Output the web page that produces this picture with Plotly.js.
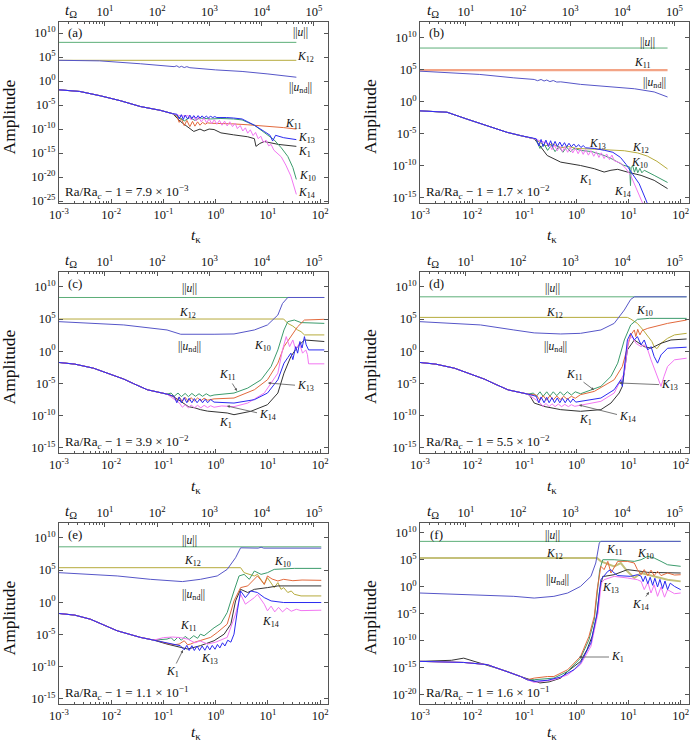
<!DOCTYPE html>
<html>
<head>
<meta charset="utf-8">
<script src="https://cdn.plot.ly/plotly-3.0.1.min.js"></script>
<style>html,body{margin:0;padding:0;background:#fff;}#chart{width:694px;height:744px;}</style>
</head>
<body>
<div id="chart"></div>
<script>
// ---------------- tick labels ----------------
const xTickVals = [1e-3, 1e-2, 1e-1, 1, 10, 100];
const xTickText = ['10<sup>-3</sup>','10<sup>-2</sup>','10<sup>-1</sup>','10<sup>0</sup>','10<sup>1</sup>','10<sup>2</sup>'];
const topTickVals = [10, 100, 1000, 1e4, 1e5];
const topTickText = ['10<sup>1</sup>','10<sup>2</sup>','10<sup>3</sup>','10<sup>4</sup>','10<sup>5</sup>'];
const yTickValsA = [1e10,1e5,1,1e-5,1e-10,1e-15,1e-20,1e-25];
const yTickTextA = ['10<sup>10</sup>','10<sup>5</sup>','10<sup>0</sup>','10<sup>-5</sup>','10<sup>-10</sup>','10<sup>-15</sup>','10<sup>-20</sup>','10<sup>-25</sup>'];
const yTickValsB = [1e10,1e5,1,1e-5,1e-10,1e-15];
const yTickTextB = ['10<sup>10</sup>','10<sup>5</sup>','10<sup>0</sup>','10<sup>-5</sup>','10<sup>-10</sup>','10<sup>-15</sup>'];
const yTickValsF = [1e10,1e5,1,1e-5,1e-10,1e-15,1e-20];
const yTickTextF = ['10<sup>10</sup>','10<sup>5</sup>','10<sup>0</sup>','10<sup>-5</sup>','10<sup>-10</sup>','10<sup>-15</sup>','10<sup>-20</sup>'];
const panelTags = ['(a)','(b)','(c)','(d)','(e)','(f)'];
const raTexts = ['7.9 × 10<sup>−3</sup>','1.7 × 10<sup>−2</sup>','3.9 × 10<sup>−2</sup>','5.5 × 10<sup>−2</sup>','1.1 × 10<sup>−1</sup>','1.6 × 10<sup>−1</sup>'];

// ---------------- panel (a) ----------------
const aU_t=[0.001,35]; const aU_v=[1.15e8,1.15e8];
const aK12_t=[0.001,35]; const aK12_v=[2.1e4,2.1e4];
const aUnd_t=[0.001,0.006,0.036,0.12,0.16,0.18,0.2,0.22,0.25,0.28,0.32,1,3.2,10,35];
const aUnd_v=[2.1e4,1.6e4,4e3,1.1e3,1e3,1.5e3,700,1.2e3,650,1e3,600,210,100,30,6.3];
const aEarly_t=[0.001,0.0025,0.0062,0.015,0.036,0.087,0.15];
const aEarly_v=[1.5e-2,6.8e-3,8.5e-4,8e-5,5e-6,8e-7,1.6e-7];
const aK1_t=[0.21,0.38,0.5,0.6,0.75,0.93,1.26,2.2,4.1,5.5,5.9,7,8.5,16,35];
const aK1_v=[4e-9,3.2e-11,1e-10,4e-11,1e-10,8e-11,1.6e-11,6.3e-12,2.5e-12,1e-12,2.5e-14,1e-13,2.5e-13,6.3e-14,2.5e-14];
const aK11_t=[0.18,0.2,0.22,0.25,0.28,0.32,0.36,0.4,0.45,0.5,0.56,0.63,0.7,0.8,1,2,4,10,20,35];
const aK11_v=[5e-8,2.5e-9,1.6e-8,5e-10,6.3e-9,3.2e-10,4e-9,4e-10,3.2e-9,6.3e-10,2.5e-9,1e-9,2e-9,1.6e-9,1.6e-9,1.25e-9,8e-10,4e-10,2e-10,1e-10];
const aK10_t=[0.18,0.25,0.32,0.4,0.5,0.8,1.26,2.2,3.2,5.5,8.5,13,18,24,30,35];
const aK10_v=[6.3e-8,5e-9,2.5e-8,6.3e-9,2e-8,1.26e-8,1.6e-8,1.26e-8,8e-9,6.3e-10,1.6e-11,6.3e-13,1.26e-14,2e-16,1e-18,3.2e-21];
const aK13_t=[0.18,0.2,0.22,0.24,0.26,0.29,0.32,0.35,0.38,0.42,0.46,0.5,0.55,0.6,0.66,0.72,0.8,0.88,0.96,1.05,1.3,1.6,2.2,3.2,4.1,5.5,8.5,11,12.3,14,20,35];
const aK13_v=[1.26e-7,1.26e-8,1e-7,1e-8,8e-8,1.26e-8,8e-8,1.6e-8,6.3e-8,1.6e-8,6.3e-8,2e-8,5.6e-8,2e-8,5e-8,2.2e-8,4.5e-8,2.5e-8,4e-8,2.5e-8,2.8e-8,2.5e-8,2e-8,1.26e-8,3.2e-9,6.3e-10,3.2e-11,5e-12,3.2e-13,5e-12,1.6e-12,6.3e-13];
const aK14_t=[0.22,0.3,0.34,0.38,0.42,0.47,0.53,0.6,0.67,0.75,0.84,0.94,1.05,1.18,1.32,1.48,1.66,1.86,2.1,2.35,2.6,2.95,3.3,3.7,4.1,4.6,5.2,5.8,6.5,7.3,8.2,9.2,10.3,11.5,13,18,22,27.5,35];
const aK14_v=[5e-8,6.3e-8,8e-9,4e-8,5e-9,3.2e-8,3.2e-9,2e-8,2e-9,1.26e-8,1.26e-9,9e-9,1e-9,6.3e-9,6.3e-10,4.5e-9,4.5e-10,3.2e-9,3.2e-10,1.6e-9,1.26e-10,5.6e-10,4e-11,1.8e-10,1.4e-11,7e-11,4.5e-12,2e-11,1e-12,3.2e-12,1.6e-13,5e-13,3.2e-14,6.3e-14,4e-15,1.6e-16,3.2e-18,1.6e-20,2.5e-24];

// ---------------- panel (b) ----------------
const bU_t=[0.001,56]; const bU_v=[2.2e8,2.2e8];
const bK11_t=[0.001,56]; const bK11_v=[8e4,8e4];
const bUnd_t=[0.001,0.014,0.063,0.155,0.18,0.21,0.24,0.27,0.31,0.36,0.42,0.5,1.2,13,31,56];
const bUnd_v=[5.5e4,1.7e4,5e3,2.8e3,1.8e3,2.8e3,1.6e3,2.3e3,1.3e3,1.9e3,1.1e3,1.2e3,480,100,32,5.2];
const bEarly_t=[0.001,0.0033,0.0079,0.0195,0.047,0.085,0.155];
const bEarly_v=[3.6e-2,2.2e-2,1.9e-3,1.7e-4,1.6e-5,5e-6,1.6e-6];
const bK1_t=[0.2,0.275,0.5,1.2,2.2,3.4,4.6,6.2,9.5,17.4,31,56];
const bK1_v=[1.26e-7,4e-9,3.7e-10,1.1e-10,3.5e-11,1.05e-11,2e-11,2.8e-11,1.05e-11,3.2e-12,5.4e-13,2.75e-14];
const bK13_t=[0.17,0.19,0.21,0.23,0.26,0.29,0.32,0.35,0.39,0.43,0.48,0.53,0.59,0.65,0.72,0.8,0.89,0.99,1.1,1.22,1.35,1.5,2.2,3.5,5,7,9,11.7,16,22,26];
const bK13_v=[1.6e-6,1.26e-7,1.26e-6,1e-7,1e-6,1e-7,8e-7,1e-7,6.3e-7,1e-7,5e-7,1e-7,4e-7,9e-8,3.2e-7,9e-8,2.5e-7,8e-8,2e-7,7e-8,1.4e-7,6.3e-8,5e-8,2.5e-8,1.26e-8,2e-9,1.6e-10,6.3e-12,1.6e-13,3.2e-16,1e-17];
const bK12_t=[0.17,0.25,0.35,0.5,0.7,1,2,5,8.3,15,23,35,56];
const bK12_v=[1e-6,1.26e-7,2.5e-7,6.3e-8,1e-7,5e-8,4e-8,2.8e-8,2.2e-8,1e-8,3.2e-9,5e-10,3.2e-11];
const bK10_t=[0.17,0.2,0.24,0.28,0.33,0.39,0.46,0.55,0.65,0.77,0.9,1.2,2,3.4,5,7.9,10.5,10.9,11.2,12,13,14,15,16.5,18,20,31,56];
const bK10_v=[1e-6,5e-8,2.5e-7,2.5e-8,1.6e-7,1.6e-8,1e-7,1.26e-8,8e-8,1.6e-8,5e-8,2.5e-8,1.6e-8,4e-9,1e-9,1.26e-10,6.3e-11,8e-14,5e-11,1e-10,1e-11,6.3e-11,8e-12,4e-11,8e-12,2e-11,3.2e-12,2.5e-13];
const bK14_t=[0.3,0.34,0.38,0.43,0.48,0.54,0.6,0.68,0.76,0.85,0.96,1.08,1.2,1.35,1.5,1.7,1.9,2.15,2.4,2.7,3.0,3.4,3.8,4.3,4.8,5.3,7.1,9,11,13,14.8,19];
const bK14_v=[2.5e-7,3.2e-8,1.6e-7,2.2e-8,1.15e-7,1.6e-8,9e-8,1.26e-8,7e-8,1e-8,5.5e-8,7.6e-9,4.3e-8,6e-9,3.3e-8,4.5e-9,2.3e-8,3e-9,1.55e-8,2e-9,1.05e-8,1.35e-9,6.9e-9,9.1e-10,4.7e-9,6.3e-10,2.5e-10,3.2e-11,3.2e-12,1.6e-13,8.5e-15,1e-16];

// ---------------- panel (c) ----------------
const cU_t=[0.001,120]; const cU_v=[2.2e8,2.2e8];
const cK12_t=[0.001,20,24,30,37,43,50,120]; const cK12_v=[1e5,1e5,2.1e4,8e3,2e3,1.1e3,340,340];
const cUnd_t=[0.001,0.0174,0.117,0.214,0.93,2.24,5.5,9.8,15.5,19,24,120];
const cUnd_v=[3.9e4,1.2e4,2e3,430,430,480,2e3,1.2e4,4.2e5,2.6e7,2.2e8,2.2e8];
const cEarly_t=[0.001,0.002,0.0046,0.0174,0.027,0.049,0.117];
const cEarly_v=[1.8e-2,1e-2,2.3e-3,4.7e-5,9e-6,1.05e-6,2.2e-7];
const cK10_t=[0.14,0.16,0.19,0.22,0.26,0.3,0.35,0.41,0.48,0.56,0.66,0.78,0.93,2.24,4.1,7.4,11.5,15.5,17.8,20.3,24,32,43,120];
const cK10_v=[3.2e-7,1e-7,3.2e-7,9e-8,2.8e-7,9e-8,2.8e-7,1e-7,2.5e-7,1e-7,2.5e-7,1.1e-7,1.6e-7,3.2e-7,1.9e-6,3.7e-5,4.3e-3,1.6,63,2e3,3.9e4,7e4,2.8e4,2.1e4];
const cK11_t=[0.16,0.18,0.2,0.23,0.26,0.3,0.34,0.39,0.45,0.52,0.6,0.7,0.93,2.24,5.5,9.8,15.5,20.3,27.5,37,50,120];
const cK11_v=[1e-7,2e-8,8e-8,1.6e-8,7e-8,1.6e-8,6.3e-8,1.8e-8,5.6e-8,2e-8,5e-8,2.5e-8,4e-8,5.4e-8,1.05e-6,3.7e-5,1.4e-2,5.2,186,6.3e3,7e4,9e4];
const cK13_t=[0.16,0.18,0.2,0.22,0.25,0.28,0.31,0.35,0.39,0.44,0.5,0.56,0.63,0.7,0.8,0.93,2.24,5.5,9.8,15.5,20.3,24,27.5,30,34,37,41,45,50,54,60,120];
const cK13_v=[1e-7,1e-8,8e-8,1e-8,6.3e-8,1e-8,5e-8,1e-8,4.5e-8,1e-8,4e-8,1e-8,3.5e-8,1e-8,3.2e-8,1.26e-8,9e-9,3e-8,3.2e-7,3.7e-5,1.4e-2,0.1,0.5,5e-2,5.2,0.5,32,3.2,186,10,1.6,1.6];
const cK14_t=[0.2,0.23,0.26,0.3,0.34,0.39,0.45,0.52,0.6,0.7,0.8,0.93,1.3,2.24,4.1,8.5,15.5,19,22.4,26,30,34,40,46,53,57,60,120];
const cK14_v=[1e-8,2e-9,5e-9,1.6e-9,4.5e-9,1.6e-9,4e-9,1.6e-9,4e-9,1.8e-9,3.5e-9,2e-9,3.2e-9,2.5e-9,9e-9,3.2e-7,4e-4,1.6,186,5.2,56,1.6,17,0.5,1.6,0.32,1.1e-2,1.1e-2];
const cK1_t=[0.15,0.214,0.3,0.4,0.51,0.7,1.0,1.66,2.24,4.7,9.8,15.5,20.3,27.5,37,50,120];
const cK1_v=[1e-7,1.66e-8,2.5e-9,1.6e-9,8.5e-10,5e-10,4e-10,2.6e-10,1.4e-10,4.7e-10,5e-9,3.2e-7,4e-4,0.15,5.2,56,32];

// ---------------- panel (d) ----------------
const dU_t=[0.001,130]; const dU_v=[2.8e8,2.8e8];
const dK12_t=[0.001,9.5,11,14.8,19,23.4,28,31,35,42,56,76,130];
const dK12_v=[1.8e5,1.8e5,1e5,2.1e4,2e3,186,32,5.2,2.5,17,100,340,600];
const dUnd_t=[0.001,0.0145,0.063,0.155,0.5,1.2,2.95,5.3,8.3,11,13,130];
const dUnd_v=[3.9e4,1.2e4,2e3,700,480,600,2e3,2.1e4,2.5e6,1.1e8,2.8e8,2.8e8];
const dEarly_t=[0.001,0.002,0.0046,0.0174,0.027,0.049,0.117];
const dEarly_v=[1.8e-2,1e-2,2.3e-3,4.5e-5,8.5e-6,1e-6,2.2e-7];
const dK10_t=[0.15,0.17,0.2,0.23,0.27,0.31,0.36,0.42,0.49,0.57,0.67,0.8,0.95,1.2,1.6,2.95,4.6,6.2,8.3,11,14.8,25,130];
const dK10_v=[3.2e-7,1e-7,5e-7,1e-7,5e-7,1.1e-7,5e-7,1.26e-7,5e-7,1.4e-7,5e-7,1.6e-7,5e-7,2.5e-7,5.8e-7,3.5e-6,1.26e-4,1.4e-2,56,1.2e4,9e4,1.26e5,1.26e5];
const dK11_t=[0.17,0.2,0.23,0.27,0.31,0.36,0.42,0.49,0.57,0.67,0.8,0.95,1.2,2.2,5.3,7.6,9.5,11,12.9,13.8,15,16.5,18.2,23.4,56,130];
const dK11_v=[1.6e-7,2.5e-8,1.26e-7,2.5e-8,1.26e-7,2.8e-8,1.1e-7,3.2e-8,1e-7,3.5e-8,1e-7,5e-8,1.8e-7,5.8e-7,3.7e-5,4.3e-3,5.2,340,2e3,186,2.5e3,340,1.6e3,3.6e3,2.1e4,7e4];
const dK13_t=[0.17,0.19,0.21,0.24,0.27,0.3,0.34,0.38,0.43,0.48,0.54,0.61,0.68,0.77,0.86,0.97,1.2,2.95,5.3,7.1,7.6,9.5,11,12.9,14.8,17.4,20,23.4,27,31,36,42,56,130];
const dK13_v=[1e-7,1e-8,8e-8,1e-8,7e-8,1e-8,6.3e-8,1e-8,5.6e-8,1e-8,5e-8,1e-8,4.5e-8,1.1e-8,4e-8,1.26e-8,1.66e-8,5.4e-8,1.05e-6,3.7e-5,3.5e-6,56,600,56,186,10,56,1.6,5.2,0.15,1.4e-2,0.27,2.9,4.2];
const dK14_t=[0.2,0.23,0.26,0.3,0.34,0.39,0.45,0.52,0.6,0.7,0.8,0.93,1.2,2.95,5.3,8.3,10,11.7,14,17.4,20,23.4,27,34,38,42,48,56,76,130];
const dK14_v=[1e-8,2.5e-9,8e-9,2.5e-9,7e-9,2.5e-9,6.3e-9,2.5e-9,5.6e-9,2.5e-9,5e-9,2.8e-9,4e-9,1.66e-8,3.2e-7,4e-4,56,186,16,5.2,10,1.6,4.6e-2,4e-4,3.2e-5,3.5e-6,1.26e-4,4.3e-3,4.6e-2,8.3e-2];
const dK1_t=[0.13,0.155,0.25,0.5,1.2,2.95,4.6,6.6,7.6,9.5,12.9,20,27,42,65,130];
const dK1_v=[1e-7,9e-9,2.5e-9,8.5e-10,4.7e-10,8.5e-10,9e-9,3.2e-7,3.5e-6,1.6,56,5.2,2.9,17,56,80];

// ---------------- panel (e) ----------------
const eU_t=[0.001,105]; const eU_v=[4e8,4e8];
const eK12_t=[0.001,3,3.5,5.5,6.3,8.5,9.8,13.2,15.5,17.8,20,24,28,32,43,105];
const eK12_v=[2.3e5,2.3e5,3.9e4,1.2e4,2.1e4,600,6.3e3,186,1.1e3,100,186,32,56,17,9.5,9.5];
const eUnd_t=[0.001,0.013,0.056,0.23,0.51,1.07,1.66,2.4,3.0,6.5,7.4,8.3,105];
const eUnd_v=[3.9e4,1.2e4,3.6e3,1.6e3,3.6e3,1.2e4,1.26e5,8e6,2.8e8,2.5e8,3.5e8,2.5e8,2.5e8];
const eEarly_t=[0.001,0.002,0.004,0.013,0.036,0.065];
const eEarly_v=[1.8e-2,1e-2,2.3e-3,3.7e-5,3.5e-6,1.3e-6];
const eK10_t=[0.117,0.14,0.16,0.19,0.22,0.26,0.31,0.38,0.45,0.51,0.6,0.93,1.25,1.66,2.24,2.8,3.5,4.4,5.5,7.4,9.8,13.2,32,105];
const eK10_v=[1.9e-6,3.2e-6,1e-6,4e-6,1.26e-6,5e-6,1.6e-6,6.3e-6,2.5e-6,1.1e-5,6.3e-6,1.07e-4,5e-4,2.5e-2,56,1.2e4,2.1e4,3.6e3,7e4,2.1e4,3.9e4,1.26e5,1.8e5,1.8e5];
const eK11_t=[0.08,0.117,0.16,0.2,0.25,0.29,0.33,0.4,0.51,0.8,1.07,1.66,2.24,3.0,4.1,5.0,6.3,7.4,8.5,9.8,12,15.5,20,30,45,105];
const eK11_v=[1e-6,4e-7,2.5e-7,3.2e-7,1.05e-6,2.5e-7,3.2e-7,6.3e-7,1.05e-6,3.5e-6,2e-5,4e-4,1.6,186,340,1.6e3,1.2e4,2.5e3,600,1.2e4,4e3,2e3,3.6e3,2.2e3,2.8e3,2.5e3];
const eK1_t=[0.117,0.21,0.29,0.51,0.93,1.45,1.95,2.4,3.0,4.1,5.5,9.8,15.5,105];
const eK1_v=[3.2e-7,1e-7,5.4e-8,1.8e-7,1.05e-6,1.1e-5,4e-4,1.6,100,32,100,186,340,340];
const eK13_t=[0.117,0.21,0.25,0.28,0.31,0.35,0.39,0.44,0.49,0.55,0.62,0.69,0.77,0.86,0.97,1.08,1.2,1.35,1.5,1.7,1.95,2.24,2.6,3.0,3.7,4.7,6.3,8.5,11.5,20,105];
const eK13_v=[5e-7,1.8e-7,4e-8,2e-7,3.2e-8,1.8e-7,3.2e-8,1.6e-7,3.2e-8,1.6e-7,3.5e-8,1.8e-7,4e-8,2e-7,5e-8,2.8e-7,8e-8,5e-7,1.6e-7,1.26e-6,6.3e-7,1.1e-5,4.6e-2,56,5.2,56,32,5.2,1.6,0.9,0.9];
const eK14_t=[0.1,0.15,0.21,0.29,0.4,0.5,0.7,1.0,1.66,2.4,3.0,3.7,4.5,5.5,6.3,8.5,9.8,11.5,13.5,16,19,23,28,35,43,105];
const eK14_v=[3.2e-6,4e-6,3.2e-6,1.9e-6,5e-7,1e-6,3.2e-7,6.3e-7,3.5e-6,1.4e-2,17,0.5,1.6,5.2,17,0.5,4.6e-2,0.25,3.2e-2,0.16,3.2e-2,0.126,4e-2,8e-2,5e-2,5.8e-2];

// ---------------- panel (f) ----------------
const fU_t=[0.001,100]; const fU_v=[2.8e8,2.8e8];
const fK12_t=[0.001,2.5,2.95,5.3,7.1,9.5,12.9,17.4,23.4,36,56,100];
const fK12_v=[2.3e5,2.3e5,5.5e4,6.6e3,2.7e4,780,45,380,186,70,22,10.7];
const fUnd_t=[0.001,0.0145,0.063,0.155,0.37,0.68,1.2,1.9,2.35,2.75,2.95,100];
const fUnd_v=[7.4e-2,3.6e-2,1.8e-2,8.7e-3,1.8e-2,7.4e-2,1.26,91,2.7e4,1.4e8,2.8e8,2.8e8];
const fEarly_t=[0.001,0.0069,0.0195,0.047,0.085,0.115];
const fEarly_v=[1.6e-14,1e-14,4e-15,2.2e-16,2.5e-17,6.3e-18];
const fK1_t=[0.001,0.004,0.0069,0.011,0.0195,0.047,0.085,0.155,0.2,0.3,0.5,0.68,1.2,1.6,2.0,2.45,2.8,3.2,3.4,5.3,9.5,17.4,23.4,100];
const fK1_v=[1.6e-14,2.5e-14,6.3e-14,1.6e-14,4e-15,2.2e-16,2.5e-17,3.2e-18,1.6e-18,2.5e-18,1.26e-17,2.2e-16,1.6e-14,2.5e-12,6.8e-10,3.5e-6,0.31,91,91,186,1.6e3,780,500,380];
const fK11_t=[0.155,0.28,0.37,0.68,1.2,1.74,2.2,2.5,2.75,2.95,3.4,4.0,4.6,6.2,9.5,12.9,14.8,17.4,20,23.4,27,31,36,42,56,76,100];
const fK11_v=[1.26e-17,2.5e-17,2.5e-17,4.5e-16,1.26e-13,6.8e-10,3.5e-6,0.31,380,6.6e3,1.6e3,5.5e4,380,5.5e4,5.5e4,2.7e4,1.6e3,186,1.6e3,126,1.26e3,126,800,126,380,160,186];
const fK10_t=[0.155,0.37,0.68,1.2,1.74,2.2,2.5,2.8,3.2,5.3,12.9,17.4,23.4,31,42,56,100];
const fK10_v=[6.3e-18,1.26e-17,2.2e-16,6.3e-14,1.6e-10,8e-7,7.4e-2,1.6e3,1.1e5,1.1e5,5.5e4,1.1e5,4.7e5,2.3e5,5.5e4,1.3e4,6.6e3];
const fK13_t=[0.155,0.28,0.5,0.9,1.2,1.9,2.5,2.95,4.0,4.6,5.3,6.2,11,14.8,17.4,19,21,23.4,26,29,32,36,40,45,50,56,63,76,100];
const fK13_v=[3.2e-18,5e-18,2e-17,4.5e-16,8e-15,4e-11,1.45e-5,22,780,1.6e3,380,126,91,186,100,10,100,4,63,2,40,1,25,0.5,12.6,0.32,5,1.26,0.31];
const fK14_t=[0.155,0.37,0.68,1.2,1.9,2.6,3.0,3.4,5.3,9.5,14.8,17.4,20,23.4,27,31,36,42,49,56,76,100];
const fK14_v=[2e-18,6.3e-18,5e-17,4e-15,1e-11,1.45e-5,5.2,22,91,45,22,10.7,0.32,7,7.4e-2,2.5,1.8e-2,1,1.26e-2,0.31,5.6e-2,7.4e-2];

// ---------------- styling ----------------
const FONT = 'Liberation Serif, DejaVu Serif, serif';
const C = {u:'#5cae78', k12:'#b6ab3c', und:'#5656c8', k11:'#e2693c', k13:'#2b2bf0', k1:'#333333', k10:'#3b9b6c', k14:'#f276f2'};
const W = 694, H = 744;
const boxes = [
  {x0:59, x1:328, y0:22, y1:203}, {x0:420, x1:688.5, y0:22, y1:203},
  {x0:59, x1:328, y0:272, y1:453}, {x0:420, x1:688.5, y0:272, y1:453},
  {x0:59, x1:328, y0:523, y1:704}, {x0:420, x1:688.5, y0:523, y1:704}
];
const yRanges = [[-25.4,12.3],[-15.8,12.4],[-15.8,12.3],[-15.8,12.3],[-15.8,12.3],[-21.7,11.85]];
const yTicks = [[yTickValsA,yTickTextA],[yTickValsB,yTickTextB],[yTickValsB,yTickTextB],[yTickValsB,yTickTextB],[yTickValsB,yTickTextB],[yTickValsF,yTickTextF]];

const minorBottom = [];
for (let e = -3; e <= 2; e++) for (let m = 2; m <= 9; m++) { const v = m * Math.pow(10, e); if (v < 140) minorBottom.push(v); }
const minorTop = [];
for (let e = 0; e <= 5; e++) for (let m = 2; m <= 9; m++) { const v = m * Math.pow(10, e); if (v > 1.35 && v < 1.8e5) minorTop.push(v); }

const traces = [];
function L(i, t, v, color, w) {
  const s = i === 0 ? '' : String(i + 1);
  traces.push({type:'scatter', mode:'lines', x:t, y:v, xaxis:'x'+s, yaxis:'y'+s,
    line:{color:color, width:w || 1}, hoverinfo:'skip', showlegend:false});
}
function LE(i, et, ev, t, v, color, w) { L(i, et.concat(t), ev.concat(v), color, w); }

// (a)
L(0, aU_t, aU_v, C.u); L(0, aK12_t, aK12_v, C.k12); L(0, aUnd_t, aUnd_v, C.und);
LE(0, aEarly_t, aEarly_v, aK1_t, aK1_v, C.k1); LE(0, aEarly_t, aEarly_v, aK11_t, aK11_v, C.k11);
LE(0, aEarly_t, aEarly_v, aK10_t, aK10_v, C.k10); LE(0, aEarly_t, aEarly_v, aK14_t, aK14_v, C.k14);
LE(0, aEarly_t, aEarly_v, aK13_t, aK13_v, C.k13);
// (b)
L(1, bU_t, bU_v, C.u); L(1, bK11_t, bK11_v, '#f3a486', 2.4); L(1, bUnd_t, bUnd_v, C.und);
LE(1, bEarly_t, bEarly_v, bK1_t, bK1_v, C.k1); LE(1, bEarly_t, bEarly_v, bK12_t, bK12_v, C.k12);
LE(1, bEarly_t, bEarly_v, bK10_t, bK10_v, C.k10); LE(1, bEarly_t, bEarly_v, bK14_t, bK14_v, C.k14);
LE(1, bEarly_t, bEarly_v, bK13_t, bK13_v, C.k13);
// (c)
L(2, cU_t, cU_v, C.u); L(2, cK12_t, cK12_v, C.k12); L(2, cUnd_t, cUnd_v, C.und);
LE(2, cEarly_t, cEarly_v, cK1_t, cK1_v, C.k1); LE(2, cEarly_t, cEarly_v, cK10_t, cK10_v, C.k10);
LE(2, cEarly_t, cEarly_v, cK11_t, cK11_v, C.k11); LE(2, cEarly_t, cEarly_v, cK14_t, cK14_v, C.k14);
LE(2, cEarly_t, cEarly_v, cK13_t, cK13_v, C.k13);
// (d)
L(3, dU_t, dU_v, C.u); L(3, dK12_t, dK12_v, C.k12); L(3, dUnd_t, dUnd_v, C.und);
LE(3, dEarly_t, dEarly_v, dK1_t, dK1_v, C.k1); LE(3, dEarly_t, dEarly_v, dK10_t, dK10_v, C.k10);
LE(3, dEarly_t, dEarly_v, dK11_t, dK11_v, C.k11); LE(3, dEarly_t, dEarly_v, dK14_t, dK14_v, C.k14);
LE(3, dEarly_t, dEarly_v, dK13_t, dK13_v, C.k13);
// (e)
L(4, eU_t, eU_v, C.u); L(4, eK12_t, eK12_v, C.k12); L(4, eUnd_t, eUnd_v, C.und);
LE(4, eEarly_t, eEarly_v, eK1_t, eK1_v, C.k1); LE(4, eEarly_t, eEarly_v, eK10_t, eK10_v, C.k10);
LE(4, eEarly_t, eEarly_v, eK11_t, eK11_v, C.k11); LE(4, eEarly_t, eEarly_v, eK14_t, eK14_v, C.k14);
LE(4, eEarly_t, eEarly_v, eK13_t, eK13_v, C.k13);
// (f)
L(5, fU_t, fU_v, C.u); L(5, fK12_t, fK12_v, '#c4c07a', 2); L(5, fUnd_t, fUnd_v, C.und);
L(5, fK1_t, fK1_v, C.k1); LE(5, fEarly_t, fEarly_v, fK10_t, fK10_v, C.k10);
LE(5, fEarly_t, fEarly_v, fK11_t, fK11_v, C.k11); LE(5, fEarly_t, fEarly_v, fK14_t, fK14_v, C.k14);
LE(5, fEarly_t, fEarly_v, fK13_t, fK13_v, C.k13);

const layout = {
  width: W, height: H, margin: {l:0, r:0, t:0, b:0},
  paper_bgcolor: '#fff', plot_bgcolor: '#fff', showlegend: false,
  font: {family: FONT, size: 12.5, color: '#111'},
  annotations: []
};
const AX = '#555';
for (let i = 0; i < 6; i++) {
  const s = i === 0 ? '' : String(i + 1);
  const b = boxes[i];
  layout['xaxis' + s] = {type:'log', domain:[b.x0/W, b.x1/W], range:[-3, 2.15], anchor:'y'+s,
    tickmode:'array', tickvals:xTickVals, ticktext:xTickText, ticks:'inside', ticklen:4, tickcolor:AX,
    showline:true, linecolor:AX, linewidth:1, mirror:false, showgrid:false, zeroline:false,
    tickfont:{family:FONT, size:12.5, color:'#111'},
    minor:{tickmode:'array', tickvals:minorBottom, ticks:'inside', ticklen:2, tickcolor:AX, showgrid:false}};
  layout['xaxis' + (i + 7)] = {type:'log', overlaying:'x'+s, side:'top', anchor:'y'+s, range:[0.12, 5.27],
    tickmode:'array', tickvals:topTickVals, ticktext:topTickText, ticks:'inside', ticklen:4, tickcolor:AX,
    showline:true, linecolor:AX, linewidth:1, showgrid:false, zeroline:false,
    tickfont:{family:FONT, size:12.5, color:'#111'},
    minor:{tickmode:'array', tickvals:minorTop, ticks:'inside', ticklen:2, tickcolor:AX, showgrid:false}};
  layout['yaxis' + s] = {type:'log', domain:[1 - b.y1/H, 1 - b.y0/H], range:yRanges[i], anchor:'x'+s,
    tickmode:'array', tickvals:yTicks[i][0], ticktext:yTicks[i][1], ticks:'inside', ticklen:4, tickcolor:AX,
    showline:true, linecolor:AX, linewidth:1, mirror:'ticks', showgrid:false, zeroline:false,
    tickfont:{family:FONT, size:12.5, color:'#111'}};
  traces.push({type:'scatter', mode:'lines', x:[], y:[], xaxis:'x'+(i+7), yaxis:'y'+s, hoverinfo:'skip', showlegend:false});
}

function T(x, y, text, size, opt) {
  layout.annotations.push(Object.assign({xref:'paper', yref:'paper', x:x/W, y:1 - y/H, text:text,
    showarrow:false, font:{family:FONT, size:size || 11.5, color:'#111'}, xanchor:'center', yanchor:'middle'}, opt || {}));
}
function A(tx, ty, lx, ly, text) {
  layout.annotations.push({xref:'paper', yref:'paper', x:tx/W, y:1 - ty/H, ax:lx - tx, ay:ly - ty, text:text,
    showarrow:true, arrowhead:2, arrowsize:0.7, arrowwidth:0.8, arrowcolor:'#555', standoff:0,
    font:{family:FONT, size:11.5, color:'#111'}});
}
const K = n => '<i>K</i><sub>' + n + '</sub>';
const UN = '||<i>u</i>||';
const UND = '||<i>u</i><sub>nd</sub>||';

// common titles
const rowMid = [117, 367, 618];
const rowTlab = [236, 486, 732];
const rowTop = [22, 272, 523];
for (let r = 0; r < 3; r++) {
  T(8.5, rowMid[r], 'Amplitude', 17.5, {textangle:-90});
  T(370, rowMid[r], 'Amplitude', 17.5, {textangle:-90});
  T(196, rowTlab[r], '<i>t</i><sub>κ</sub>', 15.5);
  T(552, rowTlab[r], '<i>t</i><sub>κ</sub>', 15.5);
  T(71, rowTop[r] - 11, '<i>t</i><sub>Ω</sub>', 15);
  T(433, rowTop[r] - 11, '<i>t</i><sub>Ω</sub>', 15);
}
for (let i = 0; i < 6; i++) {
  const b = boxes[i];
  T(b.x0 + 16, b.y0 + 11, panelTags[i], 13);
  T(b.x0 + 4, b.y1 - 11, 'Ra/Ra<sub><i>c</i></sub> − 1 = ' + raTexts[i], 13, {xanchor:'left'});
}
// (a) labels
T(300, 33, UN); T(305, 57, K(12)); T(300, 88, UND); T(293, 124, K(11)); T(306, 138, K(13));
T(304, 152, K(1)); T(307, 176, K(10)); T(306, 193, K(14));
// (b) labels
T(647, 43, UN); T(642, 63, K(11)); T(654, 83, UND); T(597, 144, K(13)); T(640, 148, K(12));
T(639, 163, K(10)); T(585, 180, K(1)); T(622, 192, K(14));
// (c) labels
T(190, 288, UN); T(188, 313, K(12)); T(190, 347, UND); T(262, 346, K(10)); T(225, 423, K(1));
A(237, 391, 227, 375, K(11)); A(268, 383, 305, 386, K(13)); A(227, 406, 267, 415, K(14));
// (d) labels
T(552, 288, UN); T(554, 313, K(12)); T(555, 347, UND); T(644, 311, K(10)); T(585, 420, K(1));
A(594, 390, 574, 375, K(11)); A(619, 383, 669, 385, K(13)); A(579, 405, 627, 417, K(14));
// (e) labels
T(190, 540, UN); T(192, 561, K(12)); T(282, 562, K(10)); T(193, 595, UND); T(188, 626, K(11));
T(210, 659, K(13)); T(270, 622, K(14)); A(183, 650, 172, 672, K(1));
// (f) labels
T(552, 535, UN); T(554, 554, K(12)); T(557, 580, UND); T(614, 550, K(11)); T(645, 554, K(10));
T(610, 588, K(13)); A(649, 592, 640, 605, K(14)); A(579, 657, 617, 657, K(1));

Plotly.newPlot('chart', traces, layout, {staticPlot:true, displayModeBar:false});
</script>
</body>
</html>
